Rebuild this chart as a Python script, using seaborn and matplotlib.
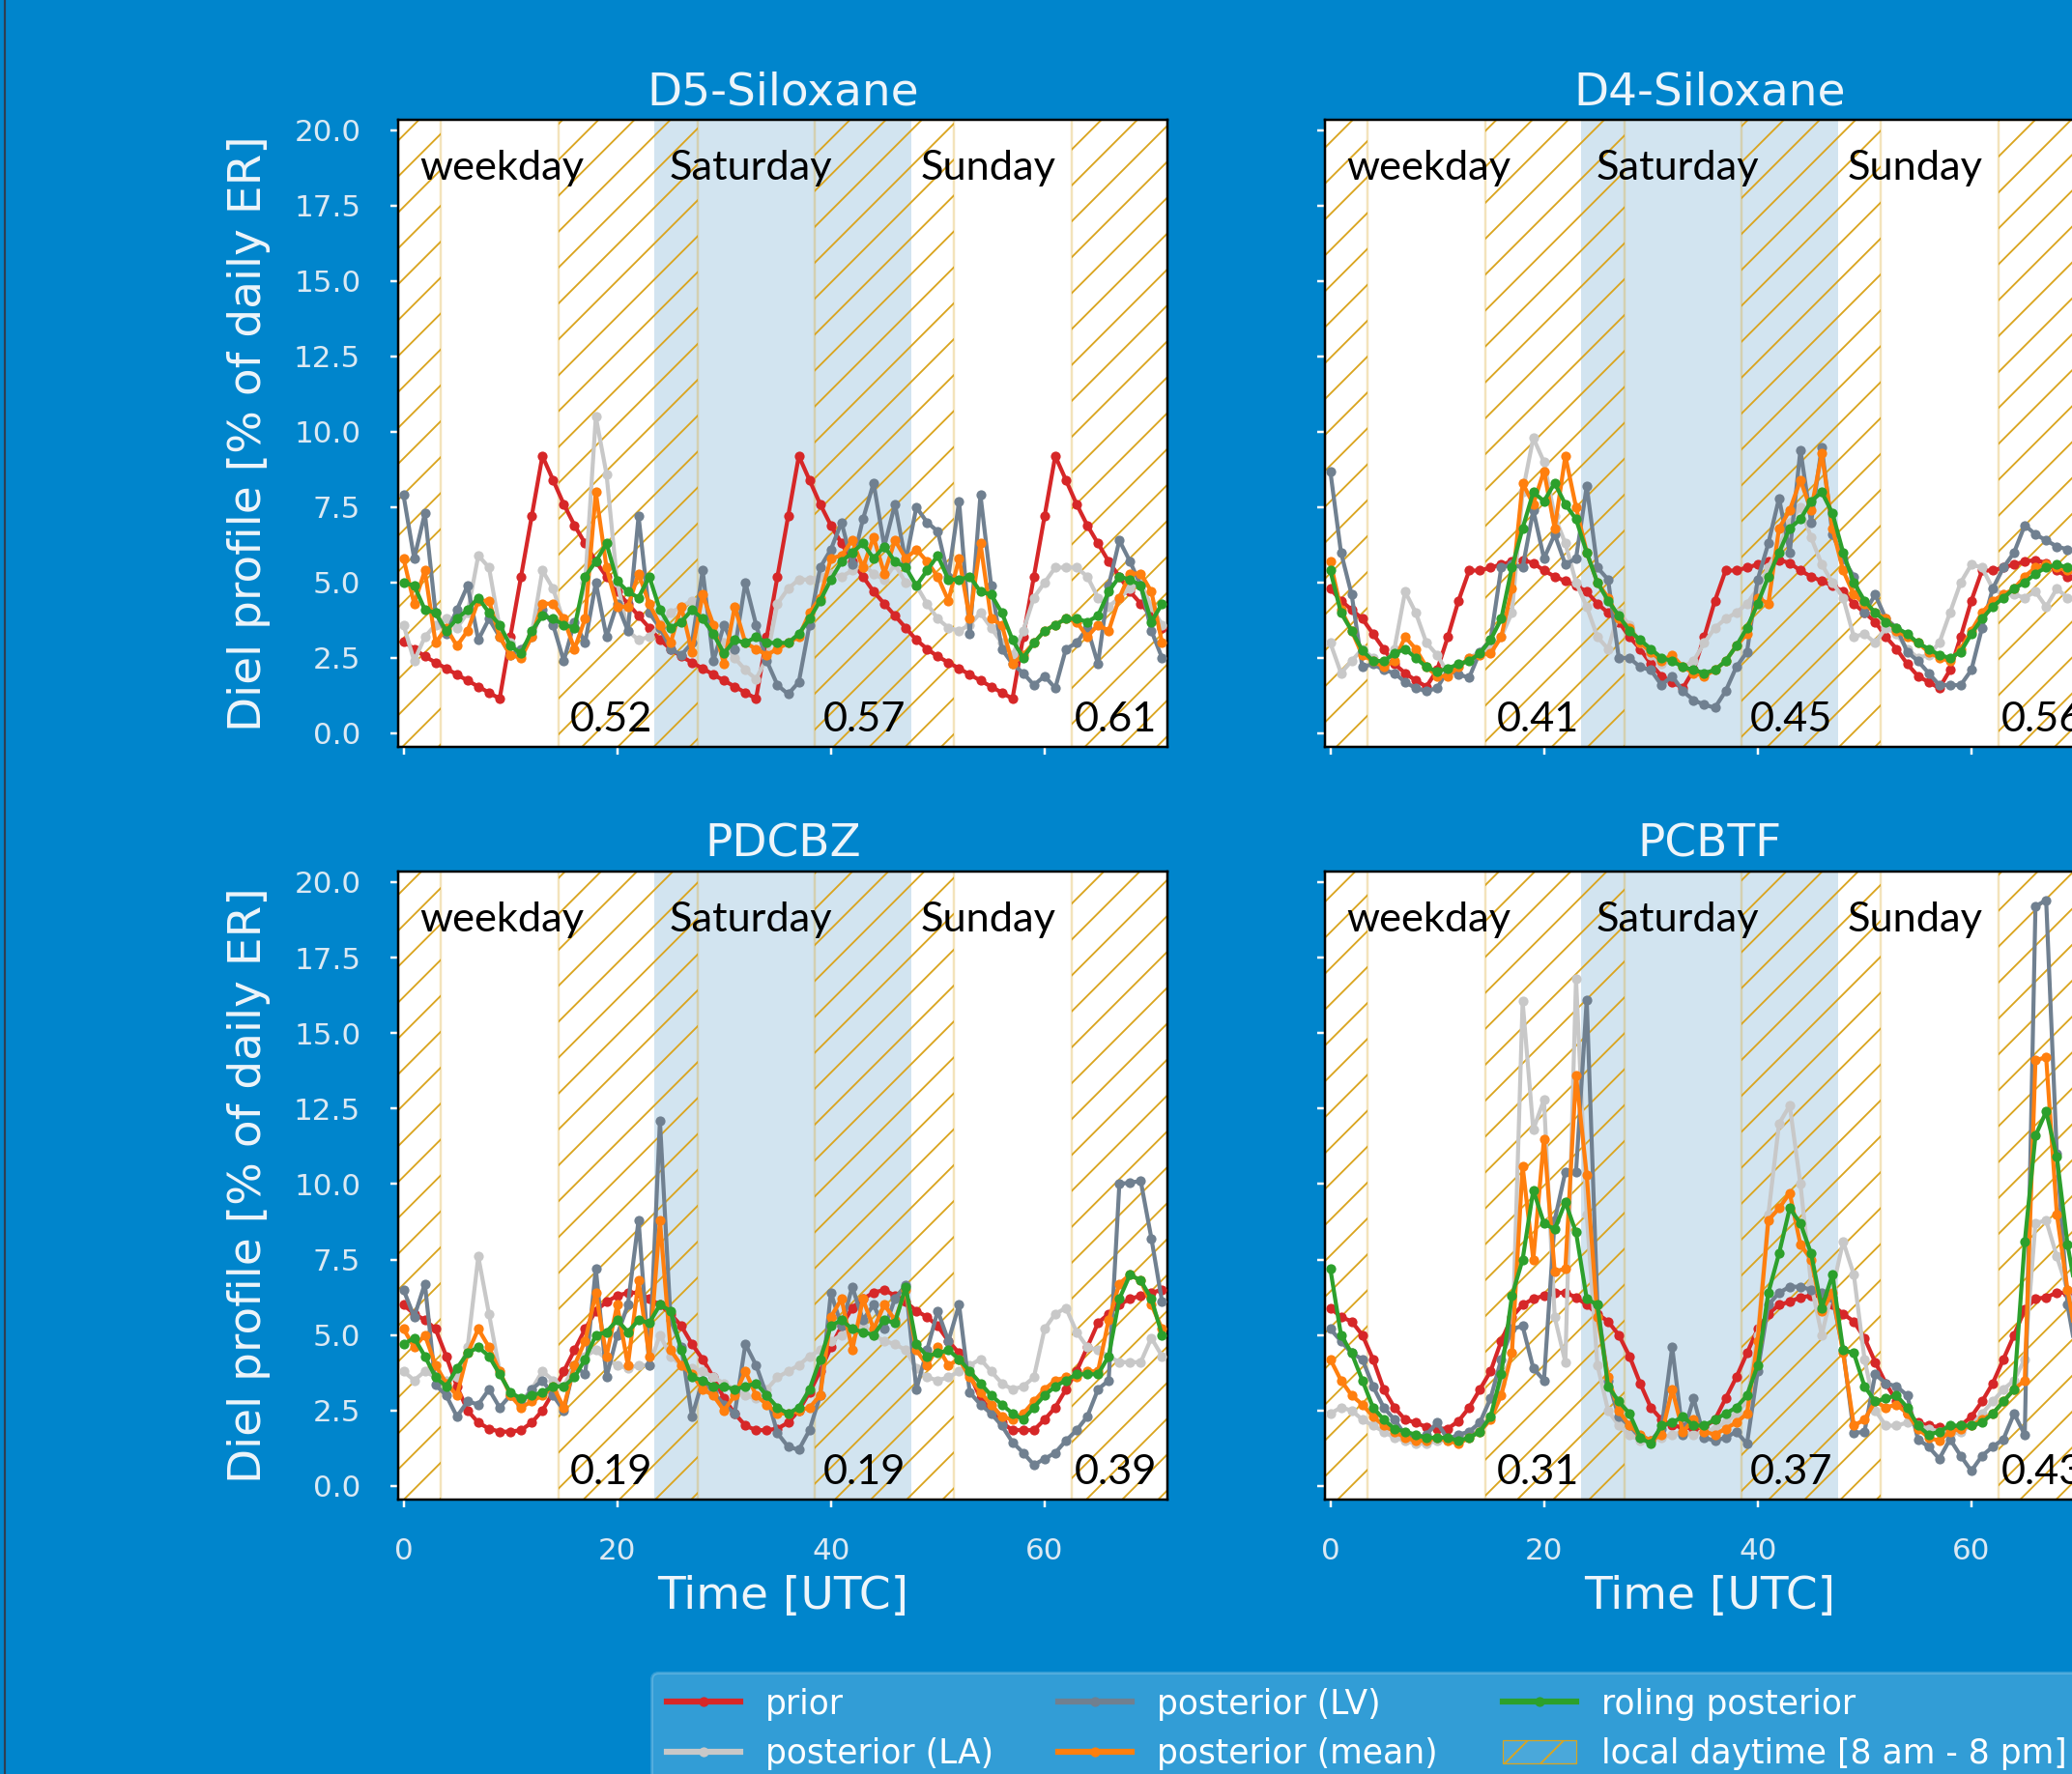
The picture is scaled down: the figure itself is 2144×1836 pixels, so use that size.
import matplotlib
matplotlib.use("Agg")
import matplotlib.pyplot as plt
import seaborn as sns
from matplotlib.patches import Patch
from matplotlib.lines import Line2D

# ---------------- data ----------------
hours = list(range(72))
panel_titles = ["D5-Siloxane", "D4-Siloxane", "PDCBZ", "PCBTF"]
day_labels = ["weekday", "Saturday", "Sunday"]
series_labels = ["prior", "posterior (LA)", "posterior (LV)", "posterior (mean)", "roling posterior"]
daytime_label = "local daytime [8 am - 8 pm]"
x_ticks = [0, 20, 40, 60]
y_ticks = [0.0, 2.5, 5.0, 7.5, 10.0, 12.5, 15.0, 17.5, 20.0]
daytime_spans = [(-0.5, 3.5), (14.5, 27.5), (38.5, 51.5), (62.5, 71.5)]
saturday_span = (23.5, 47.5)

d5_prior = [3.05, 2.80, 2.55, 2.35, 2.15, 1.95, 1.75, 1.55, 1.35, 1.15, 3.20, 5.20, 7.20, 9.20, 8.40, 7.60, 6.90, 6.30, 5.70, 5.20, 4.70, 4.30, 3.90, 3.50,
            3.10, 2.80, 2.55, 2.35, 2.15, 1.95, 1.75, 1.55, 1.35, 1.15, 3.20, 5.20, 7.20, 9.20, 8.40, 7.60, 6.90, 6.30, 5.70, 5.20, 4.70, 4.30, 3.90, 3.50,
            3.10, 2.80, 2.55, 2.35, 2.15, 1.95, 1.75, 1.55, 1.35, 1.15, 3.20, 5.20, 7.20, 9.20, 8.40, 7.60, 6.90, 6.30, 5.70, 5.20, 4.70, 4.30, 3.90, 3.50]
d5_la = [3.6, 2.4, 3.2, 3.6, 3.8, 3.5, 4.0, 5.9, 5.5, 3.5, 3.0, 2.6, 3.3, 5.4, 4.8, 3.7, 3.5, 5.0, 10.5, 8.6, 5.0, 3.4, 3.1, 3.2,
         3.6, 4.0, 4.2, 4.4, 3.8, 3.4, 3.0, 2.5, 2.1, 1.8, 2.5, 4.3, 4.8, 5.1, 5.1, 5.2, 5.3, 5.2, 5.4, 5.6, 5.3, 5.1, 5.6, 5.0,
         4.9, 4.3, 3.8, 3.5, 3.4, 3.6, 4.0, 3.5, 3.0, 2.6, 3.4, 4.5, 5.0, 5.5, 5.5, 5.5, 5.2, 4.5, 4.2, 4.5, 4.8, 5.0, 4.2, 3.6]
d5_lv = [7.9, 5.8, 7.3, 4.0, 3.3, 4.1, 4.9, 3.1, 3.8, 3.2, 2.6, 2.8, 3.2, 4.1, 3.6, 2.4, 3.7, 3.0, 5.0, 3.2, 4.3, 3.4, 7.2, 4.0,
         3.5, 2.8, 2.6, 3.0, 5.4, 2.4, 3.6, 2.8, 5.0, 3.6, 2.4, 1.6, 1.3, 1.7, 3.6, 5.5, 6.1, 7.0, 5.6, 7.1, 8.3, 6.2, 7.6, 5.7,
         7.5, 7.0, 6.7, 5.2, 7.7, 3.3, 7.9, 4.9, 2.8, 2.3, 2.0, 1.6, 1.9, 1.5, 2.8, 3.0, 3.5, 2.3, 4.9, 6.4, 5.7, 4.9, 3.4, 2.5]
d5_mean = [5.8, 4.3, 5.4, 3.0, 3.5, 2.9, 3.4, 4.4, 4.4, 3.2, 2.6, 2.5, 3.2, 4.3, 4.3, 3.8, 2.8, 3.8, 8.0, 5.5, 4.2, 4.2, 5.3, 4.3,
           3.6, 3.0, 4.2, 2.7, 4.6, 3.6, 2.3, 4.2, 3.0, 2.8, 2.6, 2.8, 3.0, 3.2, 4.0, 4.5, 5.8, 5.9, 6.4, 5.5, 6.5, 5.3, 6.4, 5.8,
           6.1, 5.7, 5.2, 4.4, 5.8, 3.8, 6.3, 3.8, 3.6, 2.3, 2.6, 3.0, 3.4, 3.6, 3.8, 3.7, 3.2, 3.6, 3.4, 4.5, 5.3, 5.3, 4.7, 3.0]
d5_roll = [5.0, 4.9, 4.1, 4.0, 3.4, 3.8, 4.1, 4.5, 4.0, 3.6, 2.9, 2.65, 3.4, 3.9, 3.8, 3.6, 3.5, 5.2, 5.7, 6.3, 5.05, 4.7, 4.5, 5.2,
           4.1, 3.5, 3.7, 4.1, 3.8, 3.3, 2.65, 3.1, 3.0, 3.2, 3.0, 3.0, 3.0, 3.3, 3.8, 4.4, 5.1, 5.7, 6.0, 6.3, 5.8, 6.2, 5.7, 5.5,
           4.9, 5.4, 5.9, 5.1, 5.1, 5.2, 4.7, 4.6, 4.0, 3.1, 2.5, 3.0, 3.4, 3.6, 3.8, 3.8, 3.7, 3.9, 4.7, 5.2, 5.1, 4.9, 3.7, 4.3]
d5_scores = ["0.52", "0.57", "0.61"]

d4_prior = [4.8, 4.4, 4.1, 3.8, 3.3, 2.8, 2.3, 2.0, 1.75, 1.55, 2.1, 3.2, 4.4, 5.4, 5.4, 5.5, 5.6, 5.7, 5.75, 5.65, 5.4, 5.2, 5.05, 4.9,
            4.7, 4.3, 4.0, 3.7, 3.2, 2.8, 2.3, 1.9, 1.7, 1.5, 2.1, 3.2, 4.4, 5.4, 5.4, 5.5, 5.6, 5.7, 5.75, 5.65, 5.4, 5.2, 5.05, 4.9,
            4.7, 4.3, 4.0, 3.7, 3.2, 2.8, 2.3, 1.9, 1.7, 1.5, 2.1, 3.2, 4.4, 5.4, 5.4, 5.5, 5.6, 5.7, 5.75, 5.65, 5.4, 5.2, 5.05, 4.9]
d4_la = [3.0, 2.0, 2.4, 2.8, 2.5, 2.2, 2.8, 4.7, 4.0, 3.0, 2.6, 2.0, 2.2, 2.5, 2.7, 2.8, 3.2, 4.0, 8.0, 9.8, 9.0, 7.2, 6.3, 5.0,
         4.2, 3.2, 2.8, 4.0, 3.6, 3.0, 2.6, 2.3, 2.4, 2.2, 2.4, 3.0, 3.5, 3.8, 4.0, 4.3, 4.8, 5.5, 6.2, 7.0, 7.5, 6.5, 5.6, 5.0,
         4.5, 3.2, 3.3, 3.0, 3.5, 3.3, 2.8, 2.5, 2.6, 3.0, 4.0, 5.0, 5.6, 5.5, 4.8, 4.6, 4.6, 4.5, 4.7, 4.2, 4.8, 4.5, 4.4, 4.3]
d4_lv = [8.7, 6.0, 4.6, 2.2, 2.3, 2.1, 2.0, 1.7, 1.5, 1.4, 1.5, 2.1, 1.95, 1.85, 2.7, 3.1, 5.5, 5.6, 5.5, 7.4, 5.8, 6.6, 5.6, 5.8,
         8.2, 5.5, 5.1, 2.5, 2.5, 2.2, 2.1, 1.6, 1.9, 1.4, 1.1, 0.95, 0.85, 1.4, 2.2, 2.7, 5.1, 6.3, 7.8, 6.0, 9.4, 7.0, 9.5, 6.6,
         5.8, 5.2, 4.0, 4.6, 3.8, 3.5, 2.7, 2.4, 2.0, 1.6, 1.6, 1.6, 2.1, 3.5, 4.8, 5.5, 6.0, 6.9, 6.6, 6.4, 6.2, 6.1, 6.0, 5.9]
d4_mean = [5.7, 4.1, 3.4, 2.6, 2.4, 2.2, 2.4, 3.2, 2.8, 2.2, 1.9, 1.9, 2.2, 2.5, 2.6, 2.65, 3.2, 4.8, 8.3, 7.6, 8.7, 6.8, 9.2, 7.5,
           6.0, 5.0, 4.5, 3.8, 3.5, 3.0, 2.7, 2.4, 2.6, 2.2, 2.0, 1.9, 2.1, 2.4, 2.9, 3.3, 4.5, 4.3, 6.8, 7.4, 8.4, 7.4, 9.3, 6.8,
           5.4, 4.6, 4.3, 4.0, 3.8, 3.4, 3.2, 3.0, 2.7, 2.5, 2.4, 2.8, 3.4, 4.0, 4.4, 4.6, 4.8, 5.2, 5.5, 5.6, 5.5, 5.4, 5.3, 5.2]
d4_roll = [5.4, 4.0, 3.4, 2.75, 2.4, 2.4, 2.65, 2.8, 2.5, 2.2, 2.05, 2.15, 2.3, 2.4, 2.65, 3.1, 3.8, 5.5, 6.8, 8.0, 7.7, 8.3, 7.6, 7.1,
           6.0, 5.0, 4.4, 3.9, 3.4, 3.1, 2.8, 2.5, 2.4, 2.2, 2.1, 2.0, 2.1, 2.4, 2.9, 3.5, 4.3, 5.2, 6.0, 6.8, 7.1, 7.7, 8.0, 7.3,
           6.0, 5.0, 4.4, 4.0, 3.7, 3.5, 3.3, 3.0, 2.8, 2.6, 2.5, 2.7, 3.3, 3.8, 4.2, 4.5, 4.8, 5.0, 5.3, 5.5, 5.6, 5.5, 5.5, 5.4]
d4_scores = ["0.41", "0.45", "0.56"]

pdcbz_prior = [6.0, 5.7, 5.5, 5.2, 4.3, 3.3, 2.5, 2.1, 1.9, 1.8, 1.8, 1.85, 2.1, 2.5, 3.1, 3.8, 4.5, 5.2, 5.8, 6.1, 6.3, 6.4, 6.4, 6.2,
               6.0, 5.7, 5.3, 4.7, 4.2, 3.6, 2.9, 2.4, 2.0, 1.85, 1.85, 1.9, 2.1, 2.5, 3.1, 3.8, 4.6, 5.3, 5.9, 6.2, 6.4, 6.5, 6.3, 6.1,
               5.8, 5.6, 5.3, 4.8, 4.4, 3.7, 2.9, 2.5, 2.1, 1.85, 1.85, 1.85, 2.2, 2.6, 3.2, 3.8, 4.6, 5.4, 5.7, 6.0, 6.2, 6.3, 6.4, 6.5]
pdcbz_la = [3.8, 3.5, 3.8, 3.6, 3.5, 3.6, 4.6, 7.6, 5.7, 3.8, 3.0, 2.8, 3.2, 3.8, 3.5, 3.3, 4.0, 4.3, 4.5, 4.2, 4.0, 3.9, 4.0, 4.0,
            5.0, 4.3, 4.0, 3.9, 3.8, 3.6, 3.4, 3.2, 3.0, 2.9, 3.2, 3.6, 3.8, 4.0, 4.3, 4.5, 4.8, 5.0, 5.2, 5.3, 5.0, 4.8, 4.7, 4.5,
            3.9, 3.6, 3.5, 3.6, 3.8, 4.0, 4.2, 3.8, 3.4, 3.2, 3.3, 3.6, 5.2, 5.7, 5.9, 5.1, 4.6, 4.5, 4.3, 4.1, 4.1, 4.1, 4.9, 4.3]
pdcbz_lv = [6.5, 5.6, 6.7, 3.35, 3.0, 2.3, 2.8, 2.7, 3.2, 2.6, 3.0, 2.7, 3.2, 3.5, 3.0, 2.5, 4.0, 3.7, 7.2, 3.6, 5.0, 6.0, 8.8, 4.0,
            12.1, 5.5, 4.6, 2.3, 3.5, 3.1, 2.7, 2.4, 4.7, 4.0, 3.0, 1.75, 1.3, 1.2, 1.85, 3.0, 6.4, 5.3, 6.6, 5.5, 6.0, 5.2, 6.2, 6.65,
            3.2, 4.5, 5.8, 4.8, 6.0, 3.1, 2.7, 2.4, 2.0, 1.45, 1.1, 0.7, 0.9, 1.1, 1.5, 1.85, 2.3, 3.2, 3.5, 10.0, 10.05, 10.1, 8.2, 6.1]
pdcbz_mean = [5.2, 4.6, 5.0, 4.0, 3.4, 3.0, 4.4, 5.2, 4.6, 3.8, 3.0, 2.6, 2.8, 3.0, 3.3, 2.6, 4.0, 4.8, 6.4, 4.3, 6.0, 4.0, 6.8, 4.3,
              8.8, 4.5, 4.0, 3.7, 3.2, 3.0, 2.5, 3.0, 3.8, 3.0, 2.7, 2.4, 2.4, 2.5, 2.6, 3.0, 5.6, 6.2, 4.5, 6.2, 5.2, 6.0, 5.5, 6.5,
              4.5, 4.0, 4.6, 4.0, 4.2, 3.6, 3.1, 2.7, 2.3, 2.2, 2.4, 2.8, 3.2, 3.5, 3.6, 3.6, 3.8, 3.8, 5.5, 6.7, 7.0, 6.8, 6.0, 5.2]
pdcbz_roll = [4.7, 4.9, 4.3, 3.6, 3.3, 3.9, 4.4, 4.6, 4.3, 3.7, 3.1, 2.9, 3.0, 3.1, 3.3, 3.3, 3.6, 4.2, 5.0, 5.1, 5.5, 5.1, 5.5, 5.4,
              6.0, 5.8, 4.5, 3.6, 3.5, 3.3, 3.3, 3.2, 3.3, 3.4, 3.0, 2.6, 2.4, 2.6, 3.2, 4.2, 5.3, 5.5, 5.2, 5.1, 5.0, 5.5, 5.4, 6.6,
              4.7, 4.3, 4.4, 4.5, 4.2, 3.8, 3.4, 3.0, 2.7, 2.4, 2.2, 2.6, 3.0, 3.3, 3.5, 3.7, 3.7, 3.7, 4.3, 6.2, 7.0, 6.8, 6.2, 5.0]
pdcbz_scores = ["0.19", "0.19", "0.39"]

pcbtf_prior = [5.9, 5.6, 5.45, 5.0, 4.2, 3.2, 2.6, 2.2, 2.1, 1.95, 1.9, 1.9, 2.15, 2.6, 3.2, 3.8, 4.8, 5.6, 6.0, 6.2, 6.3, 6.4, 6.4, 6.25,
               6.0, 5.7, 5.45, 5.0, 4.3, 3.4, 2.6, 2.2, 2.0, 1.95, 1.9, 1.95, 2.2, 2.9, 3.6, 4.4, 5.2, 5.7, 6.0, 6.1, 6.25, 6.3, 6.3, 6.0,
               5.7, 5.45, 4.9, 4.1, 3.4, 2.8, 2.4, 2.1, 2.0, 1.95, 1.9, 2.0, 2.3, 2.8, 3.4, 4.2, 5.0, 5.85, 6.2, 6.25, 6.4, 6.4, 6.3, 6.2]
pcbtf_la = [2.4, 2.6, 2.5, 2.2, 2.0, 1.8, 1.6, 1.5, 1.4, 1.4, 1.5, 1.5, 1.6, 1.7, 1.9, 2.3, 3.4, 4.4, 16.05, 11.8, 12.8, 5.6, 4.1, 16.8,
            9.0, 4.0, 2.5, 2.0, 1.7, 1.5, 1.5, 1.6, 1.7, 1.8, 1.7, 1.8, 1.9, 2.1, 2.4, 2.8, 5.0, 9.0, 12.0, 12.6, 10.0, 6.7, 5.0, 6.5,
            8.1, 7.0, 4.2, 2.5, 2.0, 2.0, 2.1, 2.0, 1.9, 1.8, 1.7, 1.8, 2.0, 2.4, 2.8, 3.2, 3.5, 4.2, 8.7, 8.8, 7.6, 6.5, 5.5, 4.5]
pcbtf_lv = [5.2, 4.8, 4.4, 4.2, 3.3, 2.6, 2.2, 1.7, 1.55, 1.7, 2.1, 1.55, 1.7, 1.8, 2.1, 2.9, 4.2, 5.2, 5.3, 3.9, 3.5, 8.8, 10.4, 10.4,
            16.1, 6.0, 3.5, 2.3, 2.0, 1.6, 1.5, 1.9, 4.6, 1.7, 2.9, 1.6, 1.5, 1.6, 1.8, 1.4, 3.8, 6.0, 6.4, 6.6, 6.6, 6.5, 6.4, 6.25,
            4.5, 1.75, 1.8, 3.7, 3.4, 3.3, 3.0, 1.55, 1.3, 0.9, 1.55, 1.0, 0.5, 1.0, 1.3, 1.55, 2.4, 1.7, 19.2, 19.4, 11.0, 6.0, 4.0, 3.5]
pcbtf_mean = [4.2, 3.5, 3.0, 2.7, 2.3, 2.0, 1.8, 1.6, 1.5, 1.5, 1.6, 1.5, 1.4, 1.6, 1.8, 2.2, 3.0, 4.4, 10.6, 7.5, 11.5, 7.1, 7.2, 13.6,
              10.3, 5.6, 3.6, 2.5, 2.0, 1.7, 1.5, 1.7, 3.2, 1.8, 2.2, 1.8, 1.7, 1.9, 2.1, 2.4, 4.8, 8.8, 9.2, 9.7, 8.0, 7.5, 5.8, 6.4,
              4.4, 2.0, 2.2, 2.8, 2.6, 2.7, 2.4, 1.9, 1.6, 1.5, 1.8, 1.9, 2.0, 2.2, 2.4, 2.8, 3.2, 3.5, 14.1, 14.2, 9.0, 6.5, 4.5, 4.0]
pcbtf_roll = [7.2, 5.0, 4.4, 3.5, 2.6, 2.2, 1.9, 1.8, 1.7, 1.6, 1.6, 1.6, 1.5, 1.6, 1.8, 2.3, 3.7, 6.3, 7.5, 9.8, 8.7, 8.5, 9.4, 8.4,
              6.2, 6.0, 3.3, 2.8, 2.4, 1.6, 1.4, 2.0, 2.1, 2.3, 2.0, 2.0, 2.2, 2.4, 2.6, 3.0, 4.0, 6.4, 7.7, 9.2, 8.7, 7.7, 5.9, 7.0,
              4.5, 4.4, 3.3, 2.8, 2.9, 3.0, 2.6, 2.0, 1.7, 1.8, 2.0, 2.0, 2.0, 2.1, 2.4, 2.8, 3.2, 8.1, 11.6, 12.4, 10.9, 8.0, 6.0, 4.8]
pcbtf_scores = ["0.31", "0.37", "0.43"]

# ---------------- style ----------------
W, H, DPI = 2144, 1836, 223
BG = "#0085CC"
GOLD = "#DAA520"
SAT_COLOR = "#d2e4f0"
TXT = "#eef5fa"
TICKTXT = "#dbe9f3"
series_colors = ["#d62728", "#c8c8c8", "#708090", "#ff7f0e", "#2ca02c"]
LW, MS = 1.35, 3.3
LABEL_FONT = ["Lato", "DejaVu Sans"]

plt.rcParams["font.family"] = ["DejaVu Sans"]
plt.rcParams["hatch.linewidth"] = 0.6

fig = plt.figure(figsize=(W / DPI, H / DPI), dpi=DPI)
fig.patch.set_facecolor(BG)

# axes rectangles in pixels: left, top, right, bottom
rects_px = [(412, 124, 1208, 773), (1371, 124, 2167, 773),
            (412, 902, 1208, 1552), (1371, 902, 2167, 1552)]

panels = [
    (d5_prior, d5_la, d5_lv, d5_mean, d5_roll, d5_scores),
    (d4_prior, d4_la, d4_lv, d4_mean, d4_roll, d4_scores),
    (pdcbz_prior, pdcbz_la, pdcbz_lv, pdcbz_mean, pdcbz_roll, pdcbz_scores),
    (pcbtf_prior, pcbtf_la, pcbtf_lv, pcbtf_mean, pcbtf_roll, pcbtf_scores),
]

label_x = [1.5, 24.9, 48.4]
score_x = [23.3, 47.0, 70.5]

for i, (title, pdata) in enumerate(zip(panel_titles, panels)):
    l, t, r, b = rects_px[i]
    ax = fig.add_axes([l / W, 1 - b / H, (r - l) / W, (b - t) / H])
    ax.set_facecolor("white")
    ax.axvspan(*saturday_span, facecolor=SAT_COLOR, edgecolor="none", lw=0, zorder=0)
    for a, bb in daytime_spans:
        ax.axvspan(a, bb, facecolor="none", edgecolor=GOLD, hatch="//", lw=0, zorder=1)
        ax.axvspan(a, bb, facecolor="none", edgecolor=(0.855, 0.647, 0.125, 0.3), lw=0.8, zorder=1)
    for k in range(5):
        sns.lineplot(x=hours, y=pdata[k], ax=ax, color=series_colors[k], marker="o",
                     markersize=MS, markeredgewidth=0, linewidth=LW, legend=False,
                     zorder=3 + k)
    ax.set_xlim(-0.5, 71.5)
    ax.set_ylim(-0.45, 20.35)
    ax.set_xticks(x_ticks)
    ax.set_yticks(y_ticks)
    ax.set_xlabel("")
    ax.set_ylabel("")
    ax.tick_params(colors="white", labelcolor=TICKTXT, length=2.5, width=0.8, pad=10, labelsize=10)
    if i < 2:
        ax.tick_params(labelbottom=False)
    if i % 2 == 1:
        ax.tick_params(labelleft=False)
    for sp in ax.spines.values():
        sp.set_color("black")
        sp.set_linewidth(0.8)
    ax.set_title(title, color=TXT, fontsize=15.2, pad=5)
    for j in range(3):
        ax.text(label_x[j], 18.75, day_labels[j], ha="left", va="center", fontsize=14,
                family=LABEL_FONT, color="black", zorder=10)
        ax.text(score_x[j], 0.45, pdata[5][j], ha="right", va="center", fontsize=14,
                family=LABEL_FONT, color="black", zorder=10)

# axis labels
for (l, t, r, b) in [rects_px[0], rects_px[2]]:
    fig.text(257 / W, 1 - (t + b) / 2 / H, "Diel profile [% of daily ER]", rotation=90,
             ha="center", va="center", fontsize=15.2, color=TXT)
for (l, t, r, b) in [rects_px[2], rects_px[3]]:
    fig.text((l + r) / 2 / W, 1 - 1652 / H, "Time [UTC]", ha="center", va="center",
             fontsize=15.2, color=TXT)

# legend
handles = [Line2D([], [], color=c, marker="o", markersize=MS, markeredgewidth=0, lw=2.0)
           for c in series_colors]
handles.append(Patch(facecolor=(1, 1, 1, 0.12), edgecolor=GOLD, hatch="//", lw=0.4))
labels = series_labels + [daytime_label]
leg = fig.legend(handles, labels, loc="upper left", bbox_to_anchor=(674 / W, 1 - 1731 / H),
                 ncol=3, fontsize=11.17, labelcolor="white", handlelength=2.2,
                 handletextpad=0.75, columnspacing=1.95, labelspacing=0.5, borderpad=0.45,
                 borderaxespad=0, facecolor="white", edgecolor="white", framealpha=0.2,
                 fancybox=True)

# slide edge on the left
fig.add_artist(Line2D([5 / W, 5 / W], [0, 1], transform=fig.transFigure, color="#2f3f52", lw=0.7))

fig.savefig("out.png", dpi=DPI, facecolor=fig.get_facecolor())
